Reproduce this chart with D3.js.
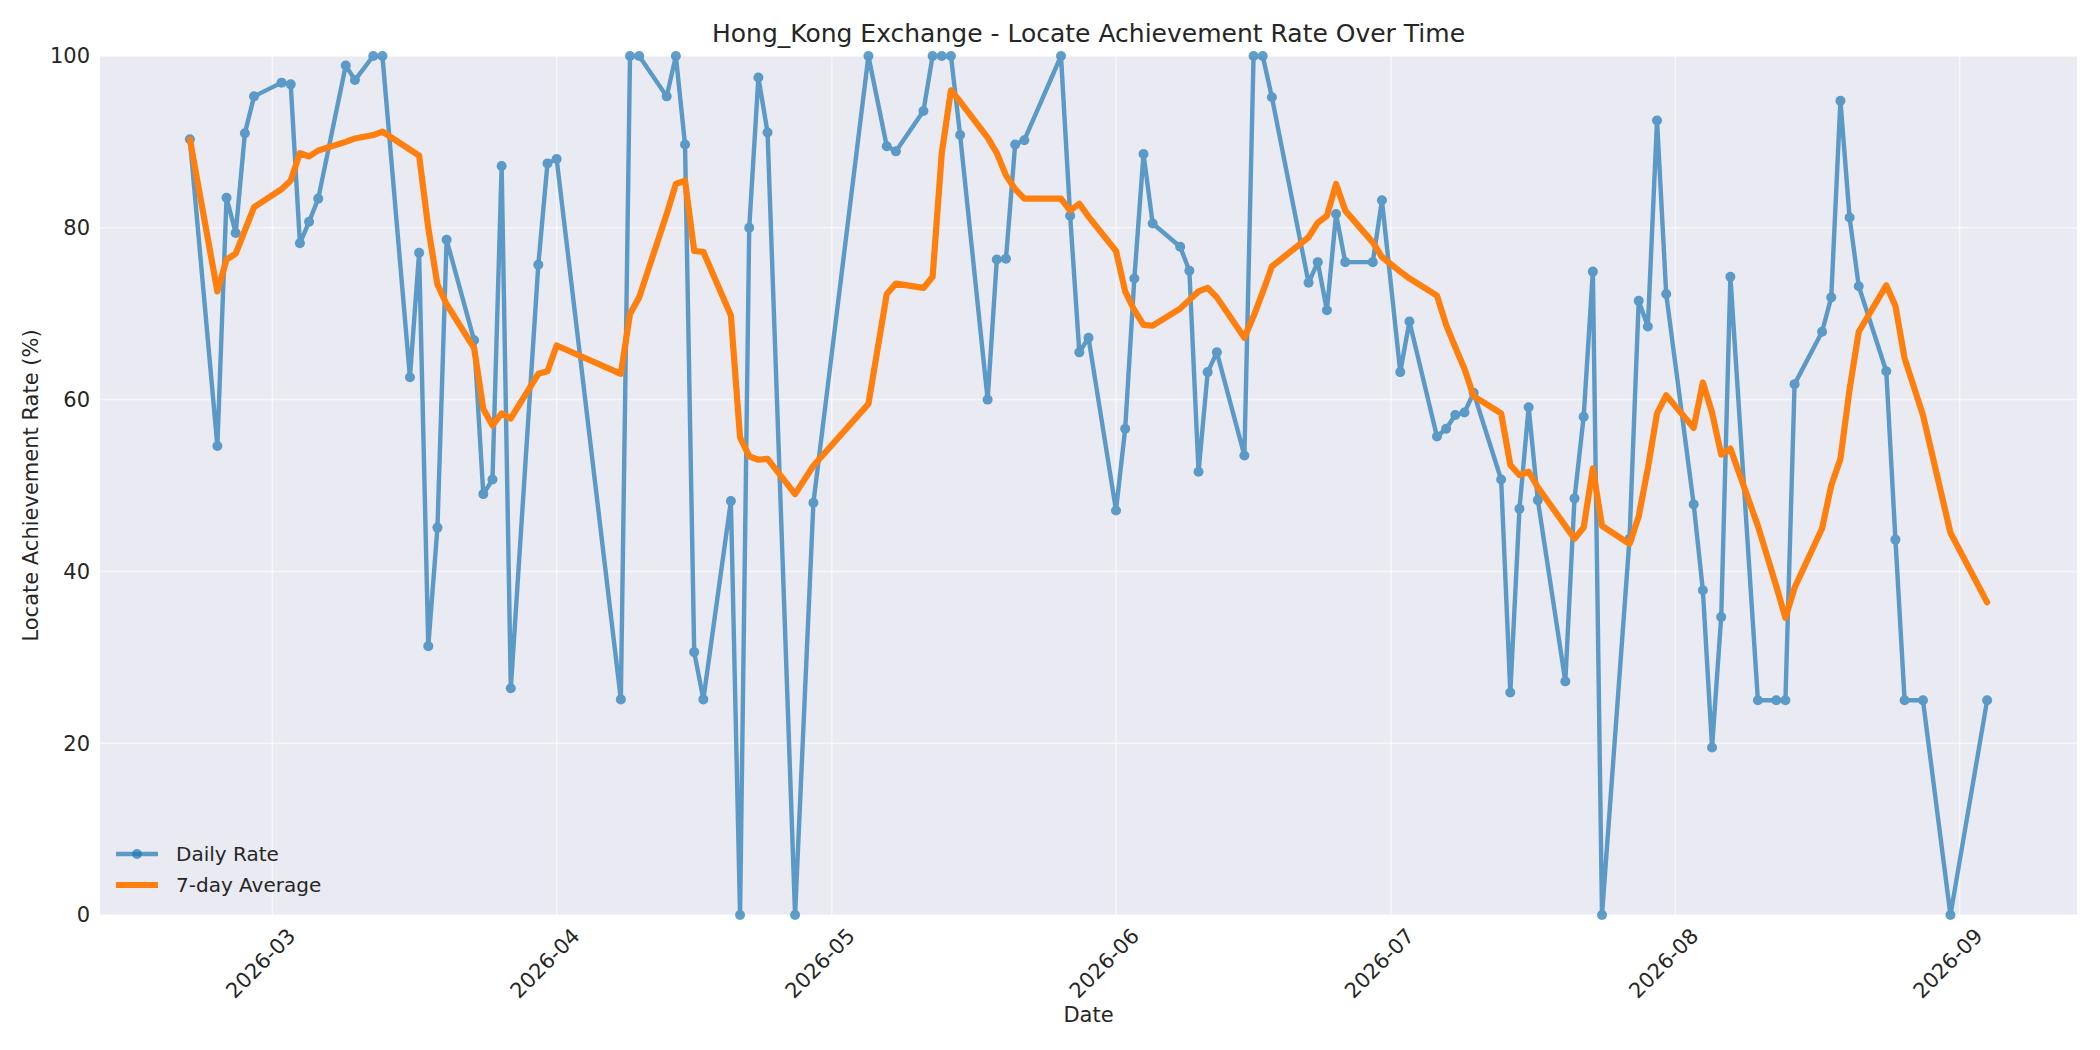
<!DOCTYPE html>
<html>
<head>
<meta charset="utf-8">
<script src="https://cdn.jsdelivr.net/npm/d3@7"></script>
<style>
  body { margin: 0; background: #fff; }
  text { font-family: "DejaVu Sans", sans-serif; fill: #262626; }
</style>
</head>
<body>
<svg id="chart" width="2100" height="1050"></svg>
<script>
var dates = ['2026-02-20','2026-02-23','2026-02-24','2026-02-25','2026-02-26','2026-02-27',
  '2026-03-02','2026-03-03','2026-03-04','2026-03-05','2026-03-06','2026-03-09','2026-03-10','2026-03-12','2026-03-13',
  '2026-03-16','2026-03-17','2026-03-18','2026-03-19','2026-03-20','2026-03-23','2026-03-24','2026-03-25','2026-03-26','2026-03-27',
  '2026-03-30','2026-03-31','2026-04-01','2026-04-08','2026-04-09','2026-04-10','2026-04-13','2026-04-14','2026-04-15','2026-04-16','2026-04-17',
  '2026-04-20','2026-04-21','2026-04-22','2026-04-23','2026-04-24','2026-04-27','2026-04-29','2026-05-05','2026-05-07','2026-05-08',
  '2026-05-11','2026-05-12','2026-05-13','2026-05-14','2026-05-15','2026-05-18','2026-05-19','2026-05-20','2026-05-21','2026-05-22',
  '2026-05-26','2026-05-27','2026-05-28','2026-05-29','2026-06-01','2026-06-02','2026-06-03','2026-06-04','2026-06-05',
  '2026-06-08','2026-06-09','2026-06-10','2026-06-11','2026-06-12','2026-06-15','2026-06-16','2026-06-17','2026-06-18',
  '2026-06-22','2026-06-23','2026-06-24','2026-06-25','2026-06-26','2026-06-29','2026-06-30','2026-07-02','2026-07-03',
  '2026-07-06','2026-07-07','2026-07-08','2026-07-09','2026-07-10','2026-07-13','2026-07-14','2026-07-15','2026-07-16','2026-07-17',
  '2026-07-20','2026-07-21','2026-07-22','2026-07-23','2026-07-24','2026-07-27','2026-07-28','2026-07-29','2026-07-30','2026-07-31',
  '2026-08-03','2026-08-04','2026-08-05','2026-08-06','2026-08-07','2026-08-10','2026-08-12','2026-08-13','2026-08-14',
  '2026-08-17','2026-08-18','2026-08-19','2026-08-20','2026-08-21','2026-08-24','2026-08-25','2026-08-26','2026-08-28','2026-08-31','2026-09-04'];

var dailyRate = [90.3,54.6,83.5,79.4,91.0,95.3,
  96.9,96.7,78.2,80.7,83.4,98.9,97.2,100,100,
  62.6,77.1,31.3,45.1,78.6,66.9,49.0,50.7,87.2,26.4,
  75.7,87.5,88.0,25.1,100,100,95.3,100,89.7,30.6,25.1,
  48.2,0,80.0,97.5,91.1,0,48.0,100,89.5,88.9,
  93.6,100,100,100,90.8,60.0,76.3,76.4,89.7,90.2,
  100,81.4,65.5,67.2,47.1,56.6,74.1,88.6,80.5,
  77.8,75.0,51.6,63.2,65.5,53.5,100,100,95.2,
  73.6,76.0,70.4,81.6,76.0,76.0,83.2,63.2,69.1,
  55.7,56.6,58.2,58.5,60.8,50.7,25.9,47.3,59.1,48.3,
  27.2,48.5,58.0,74.9,0,43.8,71.5,68.5,92.5,72.3,
  47.8,37.8,19.5,34.7,74.3,25.0,25.0,25.0,61.8,
  67.9,71.9,94.8,81.2,73.2,63.3,43.7,25.0,25.0,0,25.0];

var avgRate = [90.3,72.6,76.3,77.0,79.7,82.4,
  84.5,85.5,88.7,88.3,89.0,90.0,90.4,90.8,91.2,
  89.1,88.4,80.0,73.4,71.1,66.0,58.9,57.0,58.4,57.8,
  63.0,63.3,66.3,63.0,70.0,71.9,81.6,85.1,85.5,77.3,77.2,
  69.8,55.6,53.4,53.0,53.1,49.0,52.3,59.5,72.3,73.5,
  73.0,74.3,88.7,96.0,94.7,90.5,88.7,86.1,84.5,83.4,
  83.4,82.0,82.8,81.3,77.3,72.6,70.4,68.7,68.6,
  70.6,71.6,72.6,73.0,71.9,67.2,69.7,72.5,75.5,
  78.9,80.6,81.4,85.1,82.0,78.3,76.6,74.9,74.1,
  72.1,68.7,66.1,63.6,60.4,58.4,52.4,51.2,51.6,49.8,
  45.3,43.8,45.1,52.0,45.3,43.2,46.4,52.0,58.4,60.5,
  56.7,62.0,58.5,53.6,54.3,45.3,38.3,34.6,38.1,
  45.0,50.0,53.1,61.2,67.9,73.3,70.9,64.8,58.2,44.5,36.4];

var yTicks = [0, 20, 40, 60, 80, 100];

var parse = d3.timeParse('%Y-%m-%d');
var data = dates.map(function(d, i) {
  return { date: parse(d), rate: dailyRate[i], avg: avgRate[i] };
});

var margin = { left: 100, right: 23, top: 56, bottom: 135 };
var width = 2100, height = 1050;
var svg = d3.select('#chart');

// matplotlib style 5% padding on x
var ext = d3.extent(data, function(d) { return d.date; });
var pad = (ext[1] - ext[0]) * 0.05;
var x = d3.scaleTime()
  .domain([new Date(+ext[0] - pad), new Date(+ext[1] + pad)])
  .range([margin.left, width - margin.right]);
var y = d3.scaleLinear().domain([0, 100]).range([height - margin.bottom, margin.top]);

svg.append('rect')
  .attr('x', margin.left).attr('y', margin.top)
  .attr('width', width - margin.left - margin.right)
  .attr('height', height - margin.top - margin.bottom)
  .attr('fill', '#eaeaf2');

var xTicks = x.ticks(d3.timeMonth.every(1)).filter(function(d) { return d.getMonth() >= 2; });

// grid
svg.append('g').selectAll('line').data(yTicks).enter().append('line')
  .attr('x1', margin.left).attr('x2', width - margin.right)
  .attr('y1', function(d) { return y(d); }).attr('y2', function(d) { return y(d); })
  .attr('stroke', '#ffffff').attr('stroke-width', 1.5).attr('opacity', 0.6);
svg.append('g').selectAll('line').data(xTicks).enter().append('line')
  .attr('x1', function(d) { return x(d); }).attr('x2', function(d) { return x(d); })
  .attr('y1', margin.top).attr('y2', height - margin.bottom)
  .attr('stroke', '#ffffff').attr('stroke-width', 1.5).attr('opacity', 0.6);

// tick labels
svg.append('g').selectAll('text').data(yTicks).enter().append('text')
  .attr('x', margin.left - 10).attr('y', function(d) { return y(d); })
  .attr('dy', '0.35em').attr('text-anchor', 'end')
  .style('font-size', '21px').text(function(d) { return d; });

var fmt = d3.timeFormat('%Y-%m');
svg.append('g').selectAll('text').data(xTicks).enter().append('text')
  .attr('transform', function(d) { return 'translate(' + (x(d) + 14) + ',' + (height - margin.bottom + 12) + ') rotate(-45)'; })
  .attr('text-anchor', 'end').attr('dy', '0.7em')
  .style('font-size', '21px').text(function(d) { return fmt(d); });

// lines
var line = d3.line().x(function(d) { return x(d.date); }).y(function(d) { return y(d.rate); });
var avgLine = d3.line().x(function(d) { return x(d.date); }).y(function(d) { return y(d.avg); });

svg.append('clipPath').attr('id', 'clip').append('rect')
  .attr('x', margin.left).attr('y', margin.top - 6)
  .attr('width', width - margin.left - margin.right)
  .attr('height', height - margin.top - margin.bottom + 12);

var plot = svg.append('g').attr('clip-path', 'url(#clip)');
var blue = plot.append('g').attr('opacity', 0.7);
blue.append('path').datum(data).attr('d', line)
  .attr('fill', 'none').attr('stroke', '#1f77b4').attr('stroke-width', 4.4)
  .attr('stroke-linejoin', 'round');
blue.selectAll('circle').data(data).enter().append('circle')
  .attr('cx', function(d) { return x(d.date); }).attr('cy', function(d) { return y(d.rate); })
  .attr('r', 5).attr('fill', '#1f77b4');
plot.append('path').datum(data).attr('d', avgLine)
  .attr('fill', 'none').attr('stroke', '#ff7f0e').attr('stroke-width', 6.2)
  .attr('stroke-linejoin', 'round').attr('stroke-linecap', 'round');

// titles
svg.append('text').attr('x', (margin.left + width - margin.right) / 2).attr('y', 42)
  .attr('text-anchor', 'middle').style('font-size', '25px')
  .text('Hong_Kong Exchange - Locate Achievement Rate Over Time');
svg.append('text').attr('x', (margin.left + width - margin.right) / 2).attr('y', 1022)
  .attr('text-anchor', 'middle').style('font-size', '21px').text('Date');
svg.append('text')
  .attr('transform', 'translate(38,' + ((margin.top + height - margin.bottom) / 2) + ') rotate(-90)')
  .attr('text-anchor', 'middle').style('font-size', '21px').text('Locate Achievement Rate (%)');

// legend
var lg = svg.append('g').attr('transform', 'translate(116,854)');
lg.append('line').attr('x1', 0).attr('x2', 42).attr('stroke', '#1f77b4').attr('stroke-width', 4.4).attr('opacity', 0.7);
lg.append('circle').attr('cx', 21).attr('r', 5).attr('fill', '#1f77b4').attr('opacity', 0.7);
lg.append('text').attr('x', 60).attr('dy', '0.35em').style('font-size', '20px').text('Daily Rate');
lg.append('line').attr('x1', 0).attr('x2', 42).attr('y1', 31).attr('y2', 31).attr('stroke', '#ff7f0e').attr('stroke-width', 6.2);
lg.append('text').attr('x', 60).attr('y', 31).attr('dy', '0.35em').style('font-size', '20px').text('7-day Average');
</script>
</body>
</html>
